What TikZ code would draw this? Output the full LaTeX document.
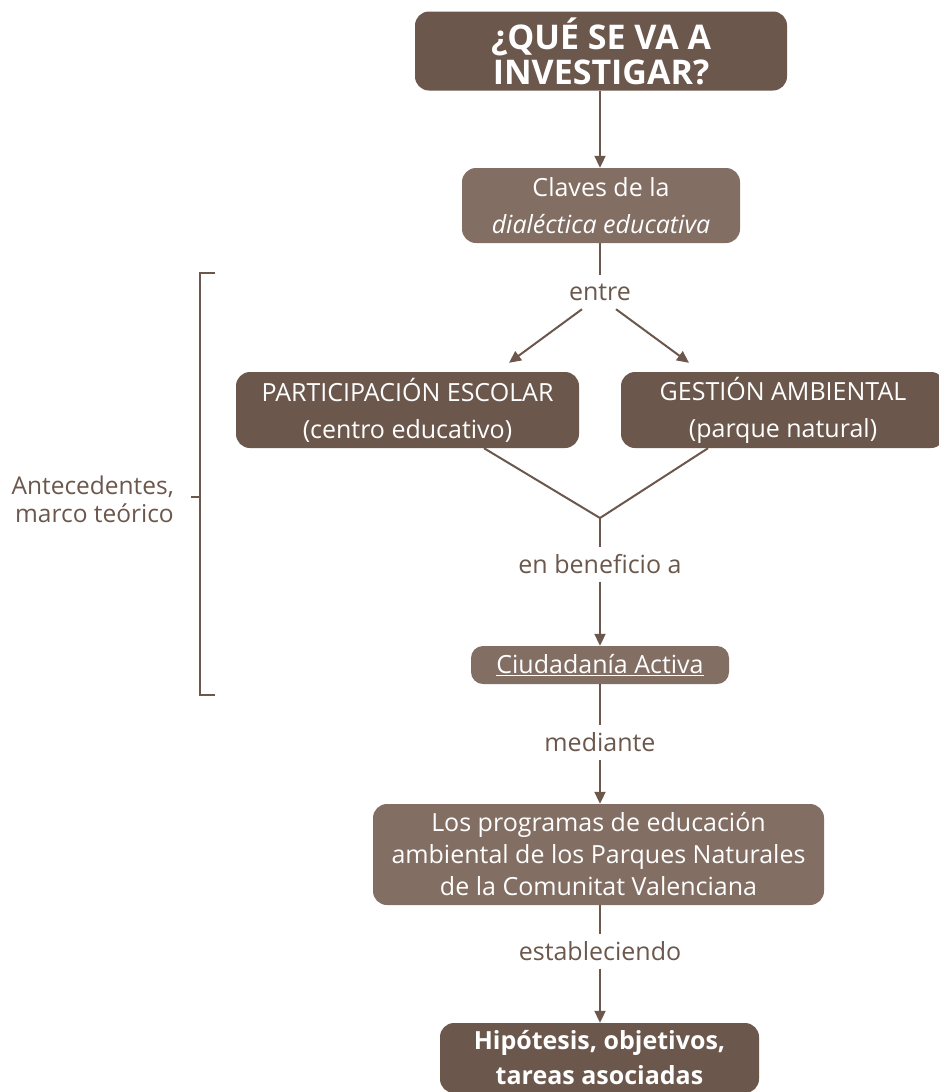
\documentclass[tikz,border=0pt]{standalone}
\usepackage{fontspec}
\setmainfont{Open Sans}
\usetikzlibrary{arrows.meta,calc}
\definecolor{darkbox}{HTML}{6B574B}
\definecolor{lightbox}{HTML}{826E63}
\definecolor{ink}{HTML}{6B574B}
\begin{document}
\begin{tikzpicture}[x=1pt,y=-1pt,
  box/.style={fill=darkbox,rounded corners=14pt,text=white,align=center,inner sep=0pt,font=\fontsize{25}{32}\selectfont},
  lbox/.style={box,fill=lightbox},
  lbl/.style={text=ink,inner sep=0pt,minimum height=34pt,font=\fontsize{25}{28}\selectfont},
  conn/.style={draw=ink,line width=2pt},
  arr/.style={conn,-{Triangle[length=12pt,width=11pt]}}]
\useasboundingbox (0,0) rectangle (939,1092);
\node[box,minimum width=372pt,minimum height=79pt,font=\fontsize{34}{35}\selectfont\bfseries] (top) at (601,51) {¿QUÉ SE VA A\\INVESTIGAR?};
\node[lbox,minimum width=278pt,minimum height=75pt,font=\fontsize{25}{37}\selectfont] (claves) at (601,205.5) {Claves de la\\\textit{dialéctica educativa}};
\node[lbl] (entre) at (600,292) {entre};
\node[box,minimum width=343pt,minimum height=76pt,font=\fontsize{25}{37}\selectfont] (part) at (407.5,410) {PARTICIPACIÓN ESCOLAR\\(centro educativo)};
\node[box,minimum width=324pt,minimum height=76pt,font=\fontsize{25}{37}\selectfont] (gest) at (783,410) {GESTIÓN AMBIENTAL\\(parque natural)};
\coordinate (join) at (600,518);
\node[lbl] (benef) at (600,564.5) {en beneficio a};
\node[lbox,minimum width=258pt,minimum height=38pt,rounded corners=12pt] (ciud) at (600,665) {\underline{Ciudadanía Activa}};
\node[lbl] (med) at (600,742.5) {mediante};
\node[lbox,minimum width=451pt,minimum height=101pt] (prog) at (598.5,854.5) {Los programas de educación\\ambiental de los Parques Naturales\\de la Comunitat Valenciana};
\node[lbl] (estab) at (600,951.5) {estableciendo};
\node[box,minimum width=319pt,minimum height=70pt,font=\fontsize{25}{35}\selectfont\bfseries] (hip) at (599.5,1058) {Hipótesis, objetivos,\\tareas asociadas};
\node[text=ink,align=right,inner sep=0pt,font=\fontsize{24.5}{28}\selectfont,anchor=east] (ante) at (174,499) {Antecedentes,\\marco teórico};
% connectors
\draw[arr] (top.south -| 600,0) -- (claves.north -| 600,0);
\draw[conn] (claves.south -| 600,0) -- (entre.north);
\draw[arr] ($(entre.south)+(-18,0)$) -- ($(part.north)+(101.5,-9)$);
\draw[arr] ($(entre.south)+(16,0)$) -- ($(gest.north)+(-94,-9)$);
\draw[conn] ($(part.south)+(76.5,0)$) -- (join) -- ($(gest.south)+(-75,0)$);
\draw[conn] (join) -- (benef.north);
\draw[arr] (benef.south) -- (ciud.north);
\draw[conn] (ciud.south) -- (med.north);
\draw[arr] (med.south) -- (prog.north -| 600,0);
\draw[conn] (prog.south -| 600,0) -- (estab.north);
\draw[arr] (estab.south) -- (hip.north -| 600,0);
% bracket
\coordinate (bt) at (200,273);
\coordinate (bb) at (200,695);
\draw[conn] (215,273) -- (bt) -- (bb) -- (215,695);
\draw[conn] (191,497) -- (200,497);
\end{tikzpicture}
\end{document}
